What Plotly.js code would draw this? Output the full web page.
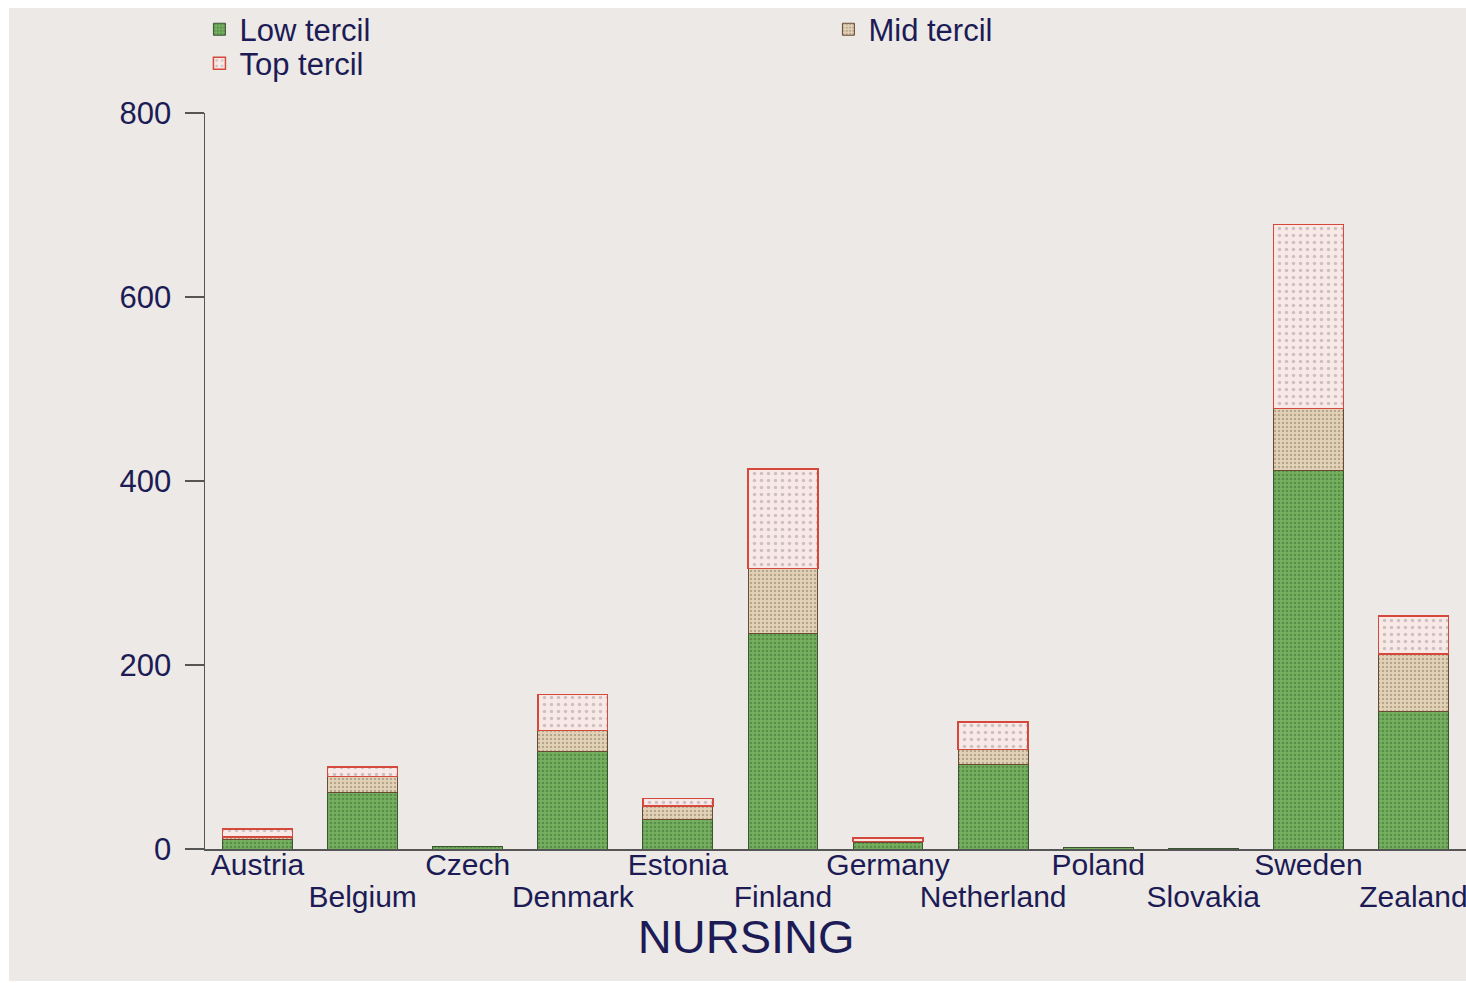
<!DOCTYPE html>
<html>
<head>
<meta charset="utf-8">
<script src="https://cdn.plot.ly/plotly-3.0.1.min.js"></script>
<style>
html,body{margin:0;padding:0;background:#ffffff;width:1466px;height:983px;overflow:hidden;}
#chart{position:absolute;left:9px;top:8px;width:1457px;height:973px;}
</style>
</head>
<body>
<div id="chart"></div>
<script>
const categories = ['Austria','Belgium','Czech','Denmark','Estonia','Finland','Germany','Netherland','Poland','Slovakia','Sweden','Zealand'];
const lowTercil = [10, 61, 3, 106, 32, 234, 7, 92, 2, 1, 411, 149];
const midTercil = [3, 18, 0, 23, 15, 71, 1, 16, 0, 0, 68, 63];
const topTercil = [9, 10, 0, 39, 8, 108, 4, 30, 0, 0, 200, 41];
const yTicks = [0, 200, 400, 600, 800];
const xTitle = 'NURSING';

const txt = '#1c1b55';
const font = 'Liberation Sans, Arial, sans-serif';

const idx = categories.map((c, i) => i);
const evenIdx = idx.filter(i => i % 2 === 0);
const oddIdx = idx.filter(i => i % 2 === 1);
const lw = (arr, w) => arr.map(v => v > 0 ? w : 0);

const traces = [
  {type:'bar', name:'Low tercil', x: idx, y: lowTercil, legend:'legend',
   marker:{color:'#70ab5c', line:{color:'#3a5530', width:lw(lowTercil, 1)},
           pattern:{shape:'.', fgcolor:'#3f6a33', bgcolor:'#74b05f', size:4, solidity:0.35, fillmode:'overlay'}}},
  {type:'bar', name:'Mid tercil', x: idx, y: midTercil, legend:'legend',
   marker:{color:'#dcccb0', line:{color:'#6a4a30', width:lw(midTercil, 1)},
           pattern:{shape:'.', fgcolor:'#8c7560', bgcolor:'#e2d3b8', size:4, solidity:0.3, fillmode:'overlay'}}},
  {type:'bar', name:'Top tercil', x: idx, y: topTercil, legend:'legend2',
   marker:{color:'#f7e6e3', line:{color:'#d5483c', width:lw(topTercil, 1.5)},
           pattern:{shape:'.', fgcolor:'#a09a9a', bgcolor:'#f8e9e6', size:7, solidity:0.2, fillmode:'overlay'}}},
  {type:'scatter', mode:'none', x: oddIdx, y: oddIdx.map(() => 0), xaxis:'x2', yaxis:'y',
   showlegend:false, hoverinfo:'skip'}
];

const legFont = {family:font, size:31, color:txt};
const layout = {
  width:1457, height:973,
  paper_bgcolor:'#ece9e6', plot_bgcolor:'#ece9e6',
  margin:{l:196, r:0, t:105, b:132, autoexpand:false},
  barmode:'stack', bargap:0.335,
  font:{family:font, color:txt, size:30},
  showlegend:true,
  legend:{orientation:'h', xref:'container', x:0.1307, xanchor:'left', yref:'paper', y:1.150, yanchor:'top',
          entrywidth:584, entrywidthmode:'pixels', traceorder:'normal',
          font:legFont, bgcolor:'rgba(0,0,0,0)'},
  legend2:{orientation:'h', xref:'container', x:0.1307, xanchor:'left', yref:'container', y:0.9707, yanchor:'top',
          font:legFont, bgcolor:'rgba(0,0,0,0)'},
  xaxis:{range:[-0.5, 11.5], tickmode:'array', tickvals:evenIdx, ticktext:evenIdx.map(i => categories[i]),
         showgrid:false, zeroline:false, showline:true, linecolor:'#555555', linewidth:1.5, ticklabeloverflow:'allow',
         ticks:'', ticklabelstandoff:-12, automargin:false, tickfont:{family:font, size:30, color:txt}, fixedrange:true},
  xaxis2:{overlaying:'x', anchor:'y', side:'bottom', range:[-0.5, 11.5], tickmode:'array', tickvals:oddIdx,
          ticktext:oddIdx.map(i => categories[i]), showgrid:false, zeroline:false, showline:false, ticklabeloverflow:'allow',
          ticks:'', ticklabelstandoff:27, automargin:false, tickfont:{family:font, size:30, color:txt}, fixedrange:true},
  yaxis:{range:[0, 800], tickmode:'array', tickvals:yTicks, ticktext:yTicks.map(String),
         showgrid:false, zeroline:false, showline:true, linecolor:'#555555', linewidth:1.5,
         ticks:'outside', ticklen:19, tickwidth:1.5, tickcolor:'#555555', ticklabelstandoff:7,
         automargin:false, tickfont:{family:font, size:31, color:txt}, fixedrange:true},
  title:{text:xTitle, x:0.506, xref:'container', xanchor:'center', y:0.046, yref:'container', yanchor:'middle',
         font:{family:font, size:47, color:txt}}
};

Plotly.newPlot('chart', traces, layout, {displayModeBar:false, staticPlot:true});
</script>
</body>
</html>
